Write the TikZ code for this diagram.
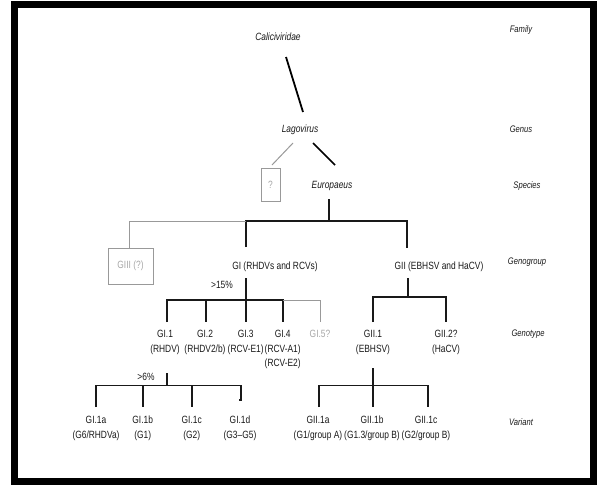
\documentclass[tikz,border=0pt]{standalone}
\usepackage{fontspec}
\setmainfont[FakeStretch=0.8]{Liberation Sans}
\begin{document}
\begin{tikzpicture}[x=1pt,y=-1pt,
  txt/.style={inner sep=0pt,font=\fontsize{10.5}{14.5}\selectfont,align=center,text=black!90},
  itx/.style={txt,font=\fontsize{10.5}{14.5}\selectfont\itshape},
  lvl/.style={txt,font=\fontsize{9.5}{12}\selectfont\itshape},
  gtxt/.style={txt,text=black!35},
  tl/.style={line width=1.3pt,black!90},
  gl/.style={line width=1pt,black!40},
  frame/.style={line width=7pt,black}]
\useasboundingbox (0,0) rectangle (599,485);
\draw[frame] (14.5,4.5) rectangle (593.5,481.5);

% level labels
\node[lvl] (fam) at (521,30) {Family};
\node[lvl] (gen) at (521,129) {Genus};
\node[lvl] (spe) at (527,186) {Species};
\node[lvl] (gg)  at (527,262) {Genogroup};
\node[lvl] (gt)  at (528,334) {Genotype};
\node[lvl] (var) at (521,421.6) {Variant};

% taxa
\node[itx] (cal) at (278,37) {Caliciviridae};
\node[itx] (lag) at (300,130) {Lagovirus};
\node[gtxt,draw=black!40,line width=1pt,minimum width=19pt,minimum height=33pt] (q) at (270.5,184.5) {?};
\node[itx] (eur) at (332,186) {Europaeus};
\node[gtxt,draw=black!40,line width=1pt,minimum width=45pt,minimum height=36pt] (g3) at (130.5,266) {GIII (?)};
\node[txt] (g1) at (275,267) {GI (RHDVs and RCVs)};
\node[txt] (g2) at (439,267) {GII (EBHSV and HaCV)};
\node[txt] (p15) at (222,285) {>15\%};
\node[txt] (p6) at (146,377) {>6\%};

% genotypes
\node[txt,anchor=north] (t1) at (165,330) {GI.1\\(RHDV)};
\node[txt,anchor=north] (t2) at (205,330) {GI.2\\(RHDV2/b)};
\node[txt,anchor=north] (t3) at (245.7,330) {GI.3\\(RCV-E1)};
\node[txt,anchor=north] (t4) at (282.7,330) {GI.4\\(RCV-A1)\\(RCV-E2)};
\node[gtxt,anchor=north] (t5) at (320,330) {GI.5?};
\node[txt,anchor=north] (u1) at (373,330) {GII.1\\(EBHSV)};
\node[txt,anchor=north] (u2) at (446,330) {GII.2?\\(HaCV)};

% variants
\node[txt,anchor=north] (v1) at (96,416) {GI.1a\\(G6/RHDVa)};
\node[txt,anchor=north] (v2) at (142.7,416) {GI.1b\\(G1)};
\node[txt,anchor=north] (v3) at (191.7,416) {GI.1c\\(G2)};
\node[txt,anchor=north] (v4) at (240,416) {GI.1d\\(G3--G5)};
\node[txt,anchor=north] (w1) at (318,416) {GII.1a\\(G1/group A)};
\node[txt,anchor=north] (w2) at (372,416) {GII.1b\\(G1.3/group B)};
\node[txt,anchor=north] (w3) at (426,416) {GII.1c\\(G2/group B)};

% connectors top
\coordinate (ca) at (286,57);
\coordinate (cb) at (303,112);
\draw[line width=1.8pt] (ca) -- (cb);
\coordinate (la) at (293,143);
\coordinate (lb) at (272,165);
\draw[gl] (la) -- (lb);
\coordinate (lc) at (313,143);
\coordinate (ld) at (335,165);
\draw[line width=1.5pt] (lc) -- (ld);

% species -> genogroups
\coordinate (eb) at (329,221);
\draw[tl] (329,199) -- (eb);
\coordinate (b1) at (246,221);
\coordinate (b2) at (407,221);
\draw[tl] (246,247) -- (b1) -- (b2) -- (407,248);
\draw[gl] (b1) -- (129,221) -- (129,248);

% genogroup GI -> genotypes
\coordinate (gib) at (246,300);
\draw[tl] (246,278) -- (gib);
\draw[tl] (167,322) |- (gib);
\draw[tl] (gib) -- (283,300) -- (283,322);
\draw[tl] (206,300) -- (206,322);
\draw[tl] (gib) -- (246,322);
\draw[gl] (283,300) -- (320,300) -- (320,322);

% genogroup GII -> genotypes
\coordinate (giib) at (408,297);
\draw[tl] (408,278) -- (giib);
\draw[tl] (373,322) |- (446,297) -- (446,322);

% GI.1 -> variants
\coordinate (vb) at (167,385.5);
\draw[tl] (167,373) -- (vb);
\draw[tl] (96,407) |- (241,385.5) -- (241,400) -- (238.5,400);
\draw[tl] (143,385.5) -- (143,407);
\draw[tl] (192,385.5) -- (192,407);

% GII.1 -> variants
\coordinate (wb) at (373,385.5);
\draw[tl] (373,368) -- (wb) -- (373,407);
\draw[tl] (319,407) |- (428,385.5) -- (428,407);
\end{tikzpicture}
\end{document}
